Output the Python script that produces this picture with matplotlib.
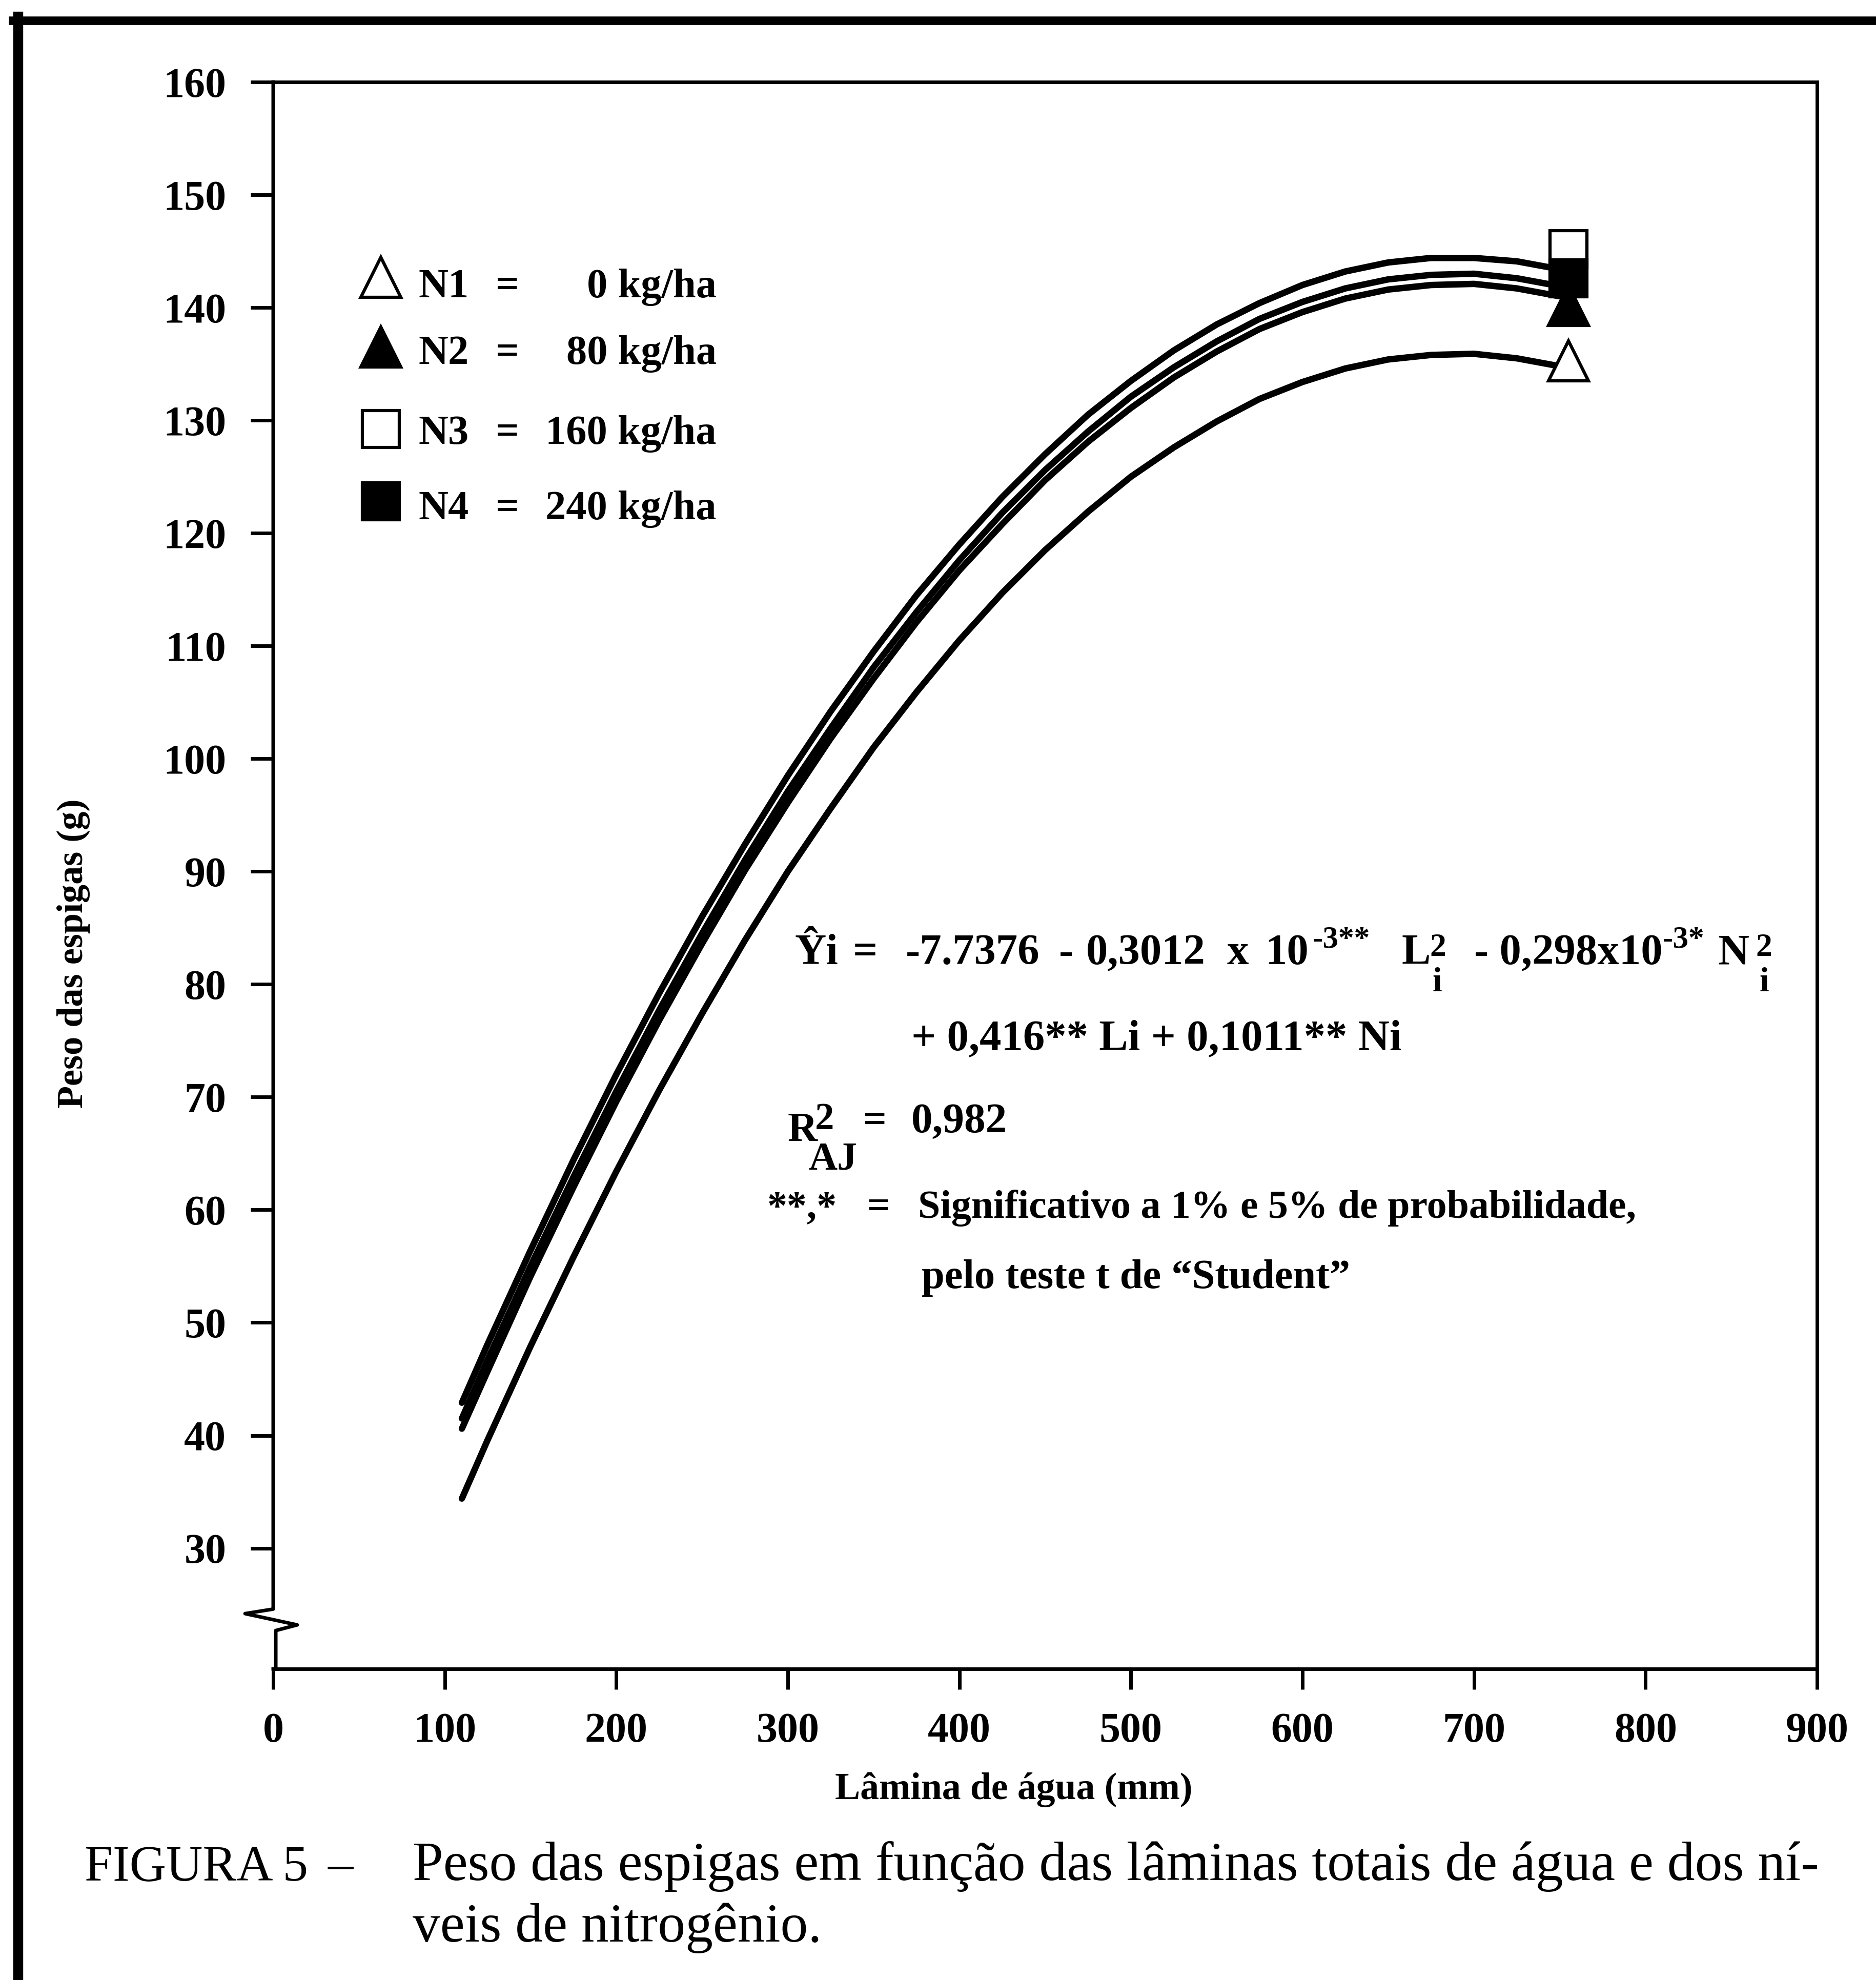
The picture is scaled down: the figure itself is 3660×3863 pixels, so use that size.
import matplotlib
matplotlib.use("Agg")
import matplotlib.pyplot as plt
from matplotlib.lines import Line2D

plt.rcParams['font.family'] = ['Liberation Serif', 'DejaVu Serif']

# lamina de agua (mm) where the fitted curves were read
lamina = [110, 125, 150, 175, 200, 225, 250, 275, 300, 325, 350, 375, 400, 425,
          450, 475, 500, 525, 550, 575, 600, 625, 650, 675, 700, 725, 750]

# peso das espigas (g)
peso_n1 = [34.4, 39.6, 47.9, 55.8, 63.4, 70.6, 77.4, 83.9, 90.0, 95.6, 101.0, 105.9, 110.5, 114.7,
           118.5, 121.9, 125.0, 127.6, 129.9, 131.9, 133.4, 134.6, 135.4, 135.8, 135.9, 135.5, 134.8]
peso_n2 = [40.6, 45.7, 54.1, 62.0, 69.6, 76.8, 83.6, 90.1, 96.1, 101.8, 107.1, 112.1, 116.7, 120.8,
           124.7, 128.1, 131.1, 133.8, 136.1, 138.1, 139.6, 140.8, 141.6, 142.0, 142.1, 141.7, 141.0]
peso_n3 = [42.9, 48.1, 56.4, 64.4, 72.0, 79.2, 86.0, 92.4, 98.5, 104.2, 109.5, 114.5, 119.0, 123.2,
           127.0, 130.5, 133.5, 136.2, 138.5, 140.4, 142.0, 143.2, 144.0, 144.4, 144.4, 144.1, 143.4]
peso_n4 = [41.5, 46.7, 55.0, 62.9, 70.5, 77.7, 84.5, 91.0, 97.1, 102.7, 108.1, 113.0, 117.6, 121.8,
           125.6, 129.0, 132.1, 134.7, 137.0, 139.0, 140.5, 141.7, 142.5, 142.9, 143.0, 142.6, 141.9]

# observed means at the largest lamina
lamina_obs = 755
peso_obs = [135.3, 140.2, 145.2, 142.6]

niveis = ["N1", "N2", "N3", "N4"]
doses = ["0 kg/ha", "80 kg/ha", "160 kg/ha", "240 kg/ha"]

x_ticks = [0, 100, 200, 300, 400, 500, 600, 700, 800, 900]
y_ticks = [30, 40, 50, 60, 70, 80, 90, 100, 110, 120, 130, 140, 150, 160]

W, H = 3660, 3863


def fx(px):
    return px / W


def fy(py):
    return 1 - py / H


fig = plt.figure(figsize=(W / 100, H / 100), dpi=100)
ax = fig.add_axes([fx(533), fy(3256), (3545 - 533) / W, (3256 - 160) / H])

curves = [peso_n1, peso_n2, peso_n3, peso_n4]
for c in curves:
    ax.plot(lamina, c, color='black', lw=9, solid_capstyle='round',
            solid_joinstyle='round', zorder=3)

mk = [('^', 'white', 56), ('^', 'black', 56), ('s', 'white', 52), ('s', 'black', 52)]
for (m, fc, ms), p in zip(mk, peso_obs):
    ax.plot([lamina_obs], [p], marker=m, ms=ms, mfc=fc, mec='black', mew=4.5,
            ls='none', zorder=5, clip_on=False)

ax.set_xlim(0, 900)
ax.set_ylim(19.3, 160)
ax.set_xticks(x_ticks)
ax.set_yticks(y_ticks)
ax.tick_params(axis='y', direction='out', length=32, width=5, pad=34, labelsize=59)
ax.tick_params(axis='x', direction='out', length=29, width=5, pad=32, labelsize=59)
for lab in ax.get_xticklabels() + ax.get_yticklabels():
    lab.set_fontweight('bold')
for s in ['top', 'right', 'bottom']:
    ax.spines[s].set_linewidth(5)
ax.spines['left'].set_visible(False)

# left axis drawn with the break symbol near the bottom
ax.plot([0, 0, -16.4, 14.0, 1.5, 1.5, 0], [160, 24.6, 24.2, 23.2, 22.7, 19.3, 19.3],
        color='black', lw=5, clip_on=False, solid_joinstyle='round', zorder=4)

# legend
leg_rows = [(541, 580), (677, 710), (837, 866), (978, 1013)]
for (m, fc, ms), nv, d, (ym, yb) in zip(mk, niveis, doses, leg_rows):
    fig.add_artist(Line2D([fx(743)], [fy(ym)], marker=m, ms=ms, mfc=fc, mec='black',
                          mew=4.5, ls='none', transform=fig.transFigure))
    fig.text(fx(817), fy(yb), nv, fontsize=58, fontweight='bold', va='baseline', ha='left')
    fig.text(fx(990), fy(yb), "=", fontsize=58, fontweight='bold', va='baseline', ha='center')
    fig.text(fx(1398), fy(yb), d, fontsize=58, fontweight='bold', va='baseline', ha='right')

# regression equation
eq = [
    ("\u0176i", 1550, 1881, 61), ("=", 1664, 1881, 61), ("-7.7376", 1767, 1881, 61),
    ("-", 2066, 1881, 61), ("0,3012", 2119, 1881, 61), ("x", 2394, 1881, 61),
    ("10", 2468, 1881, 61), ("-3**", 2561, 1848, 44), ("L", 2735, 1881, 61),
    ("2", 2789, 1865, 46), ("i", 2795, 1934, 48), ("- 0,298x10", 2876, 1881, 61),
    ("-3*", 3244, 1848, 44), ("N", 3351, 1881, 61), ("2", 3425, 1865, 46),
    ("i", 3432, 1934, 48),
    ("+ 0,416** Li + 0,1011** Ni", 1778, 2048, 61),
    ("R", 1537, 2226, 58), ("2", 1590, 2203, 54), ("AJ", 1577, 2281, 56),
    ("=", 1684, 2209, 58), ("0,982", 1778, 2209, 60),
    ("**,*", 1497, 2376, 56), ("=", 1691, 2376, 56),
    ("Significativo a 1% e 5% de probabilidade,", 1791, 2376, 56),
    ("pelo teste t de \u201cStudent\u201d", 1798, 2513, 58),
]
for t, x, y, s in eq:
    fig.text(fx(x), fy(y), t, fontsize=s, fontweight='bold', va='baseline', ha='left')

# axis titles
fig.text(fx(1978), fy(3510), "L\u00e2mina de \u00e1gua (mm)", fontsize=53,
         fontweight='bold', ha='center', va='baseline')
fig.text(fx(143), fy(1860), "Peso das espigas (g)", fontsize=52, fontweight='bold',
         rotation=90, ha='center', va='center')

# caption
fig.text(fx(165), fy(3668), "FIGURA 5", fontsize=71, ha='left', va='baseline')
fig.text(fx(640), fy(3668), "\u2013", fontsize=71, ha='left', va='baseline')
fig.text(fx(805), fy(3668),
         "Peso das espigas em fun\u00e7\u00e3o das l\u00e2minas totais de \u00e1gua e dos n\u00ed-",
         fontsize=77.5, ha='left', va='baseline')
fig.text(fx(805), fy(3788), "veis de nitrog\u00eanio.", fontsize=77.5, ha='left', va='baseline')

# page frame (top and left edges)
fig.add_artist(Line2D([fx(25), fx(3660)], [fy(40), fy(40)], lw=12, color='black',
                      transform=fig.transFigure))
fig.add_artist(Line2D([fx(35), fx(35)], [fy(32), fy(3863)], lw=14, color='black',
                      transform=fig.transFigure))

fig.savefig("out.png", dpi=100, facecolor='white')
